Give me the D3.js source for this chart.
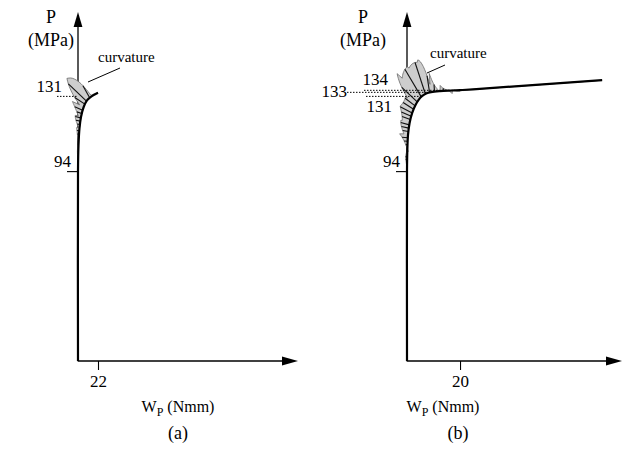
<!DOCTYPE html>
<html>
<head>
<meta charset="utf-8">
<script src="https://cdn.jsdelivr.net/npm/d3@7"></script>
<style>
body { margin: 0; background: #fff; }
text { font-family: "Liberation Serif", "Times New Roman", serif; fill: #000; }
</style>
</head>
<body>
<svg id="chart" width="631" height="450"></svg>
<script>
// panel (a): plastic work W_P (Nmm) vs pressure P (MPa)
var wA = [0, 0, 0.55, 1.65, 3.3, 6.05, 9.9, 14.9, 22];
var pA = [0, 94, 106.9, 115.3, 120.8, 125.5, 129.0, 131.0, 132.8];
var xTickA = [22];
var yTickA = [94];
var levelsA = [131];

// panel (b)
var wB = [0, 0, 0.11, 0.38, 0.98, 1.96, 3.21, 4.45, 5.77, 7.25, 9.06, 12.45, 16.98, 20, 24.9, 73.6];
var pB = [0, 94, 103.5, 111.9, 117.8, 122.8, 126.7, 129.4, 131.2, 132.4, 133.1, 133.6, 133.9, 134.1, 134.5, 139.0];
var xTickB = [20];
var yTickB = [94];
var levelsB = [134, 133, 131];

var svg = d3.select("#chart");

var panels = [
    { w: wA, p: pA, xTicks: xTickA, yTicks: yTickA, levels: levelsA,
      x0: 78, x1: 298, wMax: 242, combScale: 420, combAspect: 1.2, name: "(a)",
      pLabelX: 51, wLabelX: 178, nameX: 178,
      levelText: [{ dx: -16, dy: -4, anchor: "end", from: -21 }],
      curvText: [98, 62], leader: [[120, 68], [88, 82]] },
    { w: wB, p: pB, xTicks: xTickB, yTicks: yTickB, levels: levelsB,
      x0: 407, x1: 622, wMax: 81.1, combScale: 800, combAspect: 1.25, name: "(b)",
      pLabelX: 363, wLabelX: 443, nameX: 458,
      levelText: [{ dx: -19, dy: -5, anchor: "end", from: -43 },
                  { dx: -60, dy: 5, anchor: "end", from: -60 },
                  { dx: -15, dy: 16, anchor: "end", from: -41 }],
      curvText: [430, 58], leader: [[445, 65], [427, 73]] }
];

var yBase = 361, yTop = 12;
var y = d3.scaleLinear().domain([0, (yBase - yTop) / 2.02]).range([yBase, yTop]);

// collect the bezier pieces d3 builds for a curve
function segmentsOf(pts, line) {
    var segs = [], cur = null;
    var ctx = {
        moveTo: function(x, yy) { cur = [x, yy]; },
        lineTo: function(x, yy) {
            segs.push([cur, [cur[0] + (x - cur[0]) / 3, cur[1] + (yy - cur[1]) / 3],
                [cur[0] + 2 * (x - cur[0]) / 3, cur[1] + 2 * (yy - cur[1]) / 3], [x, yy]]);
            cur = [x, yy];
        },
        bezierCurveTo: function(a, b, c, d, x, yy) { segs.push([cur, [a, b], [c, d], [x, yy]]); cur = [x, yy]; },
        closePath: function() {}
    };
    line.context(ctx)(pts);
    line.context(null);
    return segs;
}

function evalSeg(s, t) {
    var u = 1 - t, pt = [], d1 = [], d2 = [];
    for (var k = 0; k < 2; k++) {
        pt[k] = u * u * u * s[0][k] + 3 * u * u * t * s[1][k] + 3 * u * t * t * s[2][k] + t * t * t * s[3][k];
        d1[k] = 3 * u * u * (s[1][k] - s[0][k]) + 6 * u * t * (s[2][k] - s[1][k]) + 3 * t * t * (s[3][k] - s[2][k]);
        d2[k] = 6 * u * (s[2][k] - 2 * s[1][k] + s[0][k]) + 6 * t * (s[3][k] - 2 * s[2][k] + s[1][k]);
    }
    return { pt: pt, d1: d1, d2: d2 };
}

panels.forEach(function(cfg) {
    var x = d3.scaleLinear().domain([0, cfg.wMax]).range([cfg.x0, cfg.x1]);
    var g = svg.append("g");
    var pts = cfg.w.map(function(d, i) { return [x(d), y(cfg.p[i])]; });

    // axes
    g.append("line").attr("x1", cfg.x0).attr("y1", yBase).attr("x2", cfg.x0).attr("y2", yTop + 14)
        .attr("stroke", "#000").attr("stroke-width", 1.3);
    g.append("line").attr("x1", cfg.x0).attr("y1", yBase).attr("x2", cfg.x1 - 15).attr("y2", yBase)
        .attr("stroke", "#000").attr("stroke-width", 1.3);
    g.append("path").attr("d", "M" + cfg.x0 + "," + yTop + "l4.4,15h-8.8z").attr("fill", "#000");
    g.append("path").attr("d", "M" + cfg.x1 + "," + yBase + "l-16,-4.4v8.8z").attr("fill", "#000");

    var xAxis = g.append("g").attr("transform", "translate(0," + yBase + ")")
        .call(d3.axisBottom(x).tickValues(cfg.xTicks).tickSize(9).tickPadding(5));
    xAxis.select(".domain").remove();
    xAxis.selectAll("text").style("font-family", null).attr("font-size", 17).attr("fill", "#000");
    xAxis.selectAll("line").attr("stroke-width", 1.1);

    var yAxis = g.append("g").attr("transform", "translate(" + cfg.x0 + ",0)")
        .call(d3.axisLeft(y).tickValues(cfg.yTicks).tickSize(11));
    yAxis.select(".domain").remove();
    yAxis.selectAll("line").attr("stroke-width", 1.1);
    yAxis.selectAll("text").style("font-family", null).attr("font-size", 17).attr("fill", "#000")
        .attr("x", -7).attr("dy", -5);

    // curve and its curvature comb, worked out with x stretched by combAspect
    // (comb fades out over the last piece)
    var line = d3.line().curve(d3.curveCatmullRom.alpha(0.5));
    var segs = segmentsOf(pts, line);
    var sa = cfg.combAspect;
    var base = [], tips = [], teeth = [], lastL = 0;
    segs.forEach(function(s, si) {
        var len = Math.hypot(s[3][0] - s[0][0], s[3][1] - s[0][1]);
        var n = Math.max(4, Math.ceil(len / 0.5));
        var step = Math.max(1, Math.round(3.6 / (len / n)));
        var endL = lastL;
        for (var j = (si === 0 ? 0 : 1); j <= n; j++) {
            var t = Math.min(0.999, Math.max(0.001, j / n));
            var e = evalSeg(s, t);
            var du = e.d1[0] * sa, dv = e.d1[1], ddu = e.d2[0] * sa, ddv = e.d2[1];
            var sp = Math.hypot(du, dv);
            if (!(sp > 1e-6)) continue;
            var L;
            if (si === segs.length - 1) {
                L = endL * (1 - j / n);
            } else {
                var k = (du * ddv - dv * ddu) / (sp * sp * sp);
                L = Math.max(-50, Math.min(50, k * cfg.combScale));
                lastL = L;
            }
            var tip = [e.pt[0] + L * dv / sp / sa, e.pt[1] - L * du / sp];
            base.push(e.pt);
            tips.push(tip);
            if (j % step === 0 && Math.abs(L) > 1.5) teeth.push([e.pt, tip]);
        }
    });
    g.append("path").attr("d", "M" + tips.concat(base.slice().reverse()).join("L") + "Z")
        .attr("fill", "#cdcdcd").attr("stroke", "#6a6a6a").attr("stroke-width", 0.8);
    g.selectAll(".tooth").data(teeth).enter().append("line").attr("class", "tooth")
        .attr("x1", function(d) { return d[0][0]; }).attr("y1", function(d) { return d[0][1]; })
        .attr("x2", function(d) { return d[1][0]; }).attr("y2", function(d) { return d[1][1]; })
        .attr("stroke", "#111").attr("stroke-width", 1.1);

    // dotted pressure levels
    cfg.levels.forEach(function(v, i) {
        var yv = y(v), hit = base[0];
        for (var b = 0; b < base.length; b++) { if (base[b][1] <= yv) { hit = base[b]; break; } }
        var xe = cfg.levels.length === 1 ? cfg.x0 : hit[0];
        var lt = cfg.levelText[i];
        g.append("line").attr("x1", cfg.x0 + lt.from).attr("y1", yv).attr("x2", xe).attr("y2", yv)
            .attr("stroke", "#000").attr("stroke-width", 1).attr("stroke-dasharray", "1.5,1.5");
        g.append("text").attr("x", cfg.x0 + lt.dx).attr("y", yv + lt.dy).attr("text-anchor", lt.anchor)
            .attr("font-size", 17).text(v);
    });

    g.append("path").attr("d", line(pts)).attr("fill", "none").attr("stroke", "#000").attr("stroke-width", 2.2);

    // labels
    g.append("text").attr("x", cfg.pLabelX).attr("y", 23).attr("text-anchor", "middle").attr("font-size", 18).text("P");
    g.append("text").attr("x", cfg.pLabelX).attr("y", 46).attr("text-anchor", "middle").attr("font-size", 18).text("(MPa)");
    var wl = g.append("text").attr("x", cfg.wLabelX).attr("y", 412).attr("text-anchor", "middle").attr("font-size", 16);
    wl.append("tspan").text("W");
    wl.append("tspan").attr("font-size", 12).attr("dy", 4).text("P");
    wl.append("tspan").attr("dy", -4).text(" (Nmm)");
    g.append("text").attr("x", cfg.nameX).attr("y", 439).attr("text-anchor", "middle").attr("font-size", 18).text(cfg.name);
    g.append("text").attr("x", cfg.curvText[0]).attr("y", cfg.curvText[1]).attr("font-size", 15).text("curvature");
    g.append("line").attr("x1", cfg.leader[0][0]).attr("y1", cfg.leader[0][1])
        .attr("x2", cfg.leader[1][0]).attr("y2", cfg.leader[1][1]).attr("stroke", "#000").attr("stroke-width", 1);
});
</script>
</body>
</html>
